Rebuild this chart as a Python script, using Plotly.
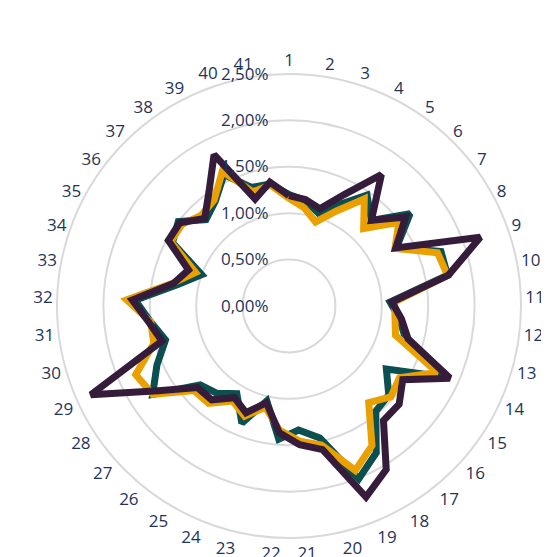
import plotly.graph_objects as go

categories = [str(i) for i in range(1, 42)]

series_teal = [1.20, 1.15, 1.05, 1.22, 1.46, 1.28, 1.64, 1.32, 1.74, 1.74,
               1.09, 1.20, 1.30, 1.88, 1.25, 1.44, 1.47, 1.84, 2.01, 1.46,
               1.34, 1.44, 1.05, 1.36, 1.10, 1.22, 1.28, 1.75, 1.56, 1.38,
               1.50, 1.66, 1.22, 1.00, 1.43, 1.50, 1.29, 1.38, 1.58, 1.34, 1.33]

series_orange = [1.16, 1.07, 0.95, 1.14, 1.41, 1.16, 1.49, 1.30, 1.70, 1.74,
                 1.14, 1.15, 1.19, 1.75, 1.42, 1.47, 1.35, 1.75, 1.91, 1.54,
                 1.46, 1.34, 1.12, 1.28, 1.19, 1.36, 1.37, 1.75, 1.81, 1.51,
                 1.50, 1.75, 1.28, 1.07, 1.45, 1.45, 1.36, 1.40, 1.62, 1.29, 1.32]

series_purple = [1.19, 1.16, 1.10, 1.34, 1.73, 1.28, 1.58, 1.31, 2.19, 1.75,
                 1.11, 1.22, 1.33, 1.90, 1.46, 1.59, 1.60, 2.05, 2.22, 1.59,
                 1.50, 1.37, 1.07, 1.24, 1.15, 1.31, 1.32, 1.68, 2.34, 1.42,
                 1.52, 1.69, 1.27, 1.15, 1.48, 1.48, 1.31, 1.50, 1.82, 1.21, 1.35]

radial_tick_vals = [0, 0.5, 1.0, 1.5, 2.0, 2.5]
radial_tick_text = ["0,00%", "0,50%", "1,00%", "1,50%", "2,00%", "2,50%"]

series = [
    ("Teal", series_teal, "#0b4f51"),
    ("Orange", series_orange, "#e9a000"),
    ("Purple", series_purple, "#351c3b"),
]

fig = go.Figure()
for name, vals, color in series:
    fig.add_trace(go.Scatterpolar(
        r=vals + vals[:1],
        theta=categories + categories[:1],
        mode="lines",
        name=name,
        line=dict(color=color, width=7),
        showlegend=False,
        hoverinfo="skip",
    ))

# page body has an 8px margin: the figure starts at (8, 8) in the window
OFF = 8
W, H = 549 - OFF, 557 - OFF
cx, cy, R = 289 - OFF, 306 - OFF, 232
fig.update_layout(
    width=W, height=H,
    margin=dict(l=0, r=0, t=0, b=0),
    paper_bgcolor="white",
    plot_bgcolor="white",
    font=dict(family="Open Sans, Noto Sans, sans-serif", size=17, color="#1f3558"),
    polar=dict(
        domain=dict(x=[(cx - R) / W, (cx + R) / W], y=[1 - (cy + R) / H, 1 - (cy - R) / H]),
        bgcolor="white",
        angularaxis=dict(
            direction="clockwise",
            rotation=90,
            showgrid=False,
            showline=True,
            linecolor="#d9d9d9",
            linewidth=2,
            ticks="",
            tickfont=dict(size=17, color="#1f3558"),
        ),
        radialaxis=dict(
            range=[0, 2.5],
            angle=90,
            side="counterclockwise",
            tickvals=radial_tick_vals,
            ticktext=radial_tick_text,
            showline=False,
            gridcolor="#d9d9d9",
            gridwidth=2,
            ticks="outside",
            ticklen=14,
            tickcolor="rgba(0,0,0,0)",
            tickangle=90,
            tickfont=dict(size=17, color="#1f3558"),
        ),
    ),
)

fig.write_html("out.html")
